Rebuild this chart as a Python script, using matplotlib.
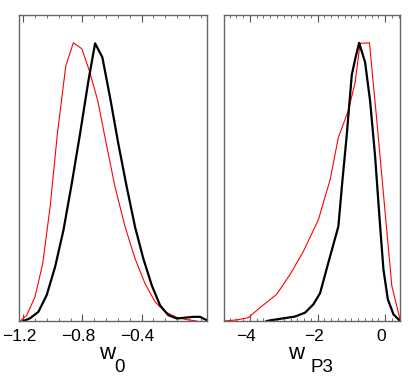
import numpy as np
import matplotlib
matplotlib.use('Agg')
import matplotlib.pyplot as plt
from matplotlib.ticker import MultipleLocator, FixedLocator
from matplotlib.transforms import ScaledTranslation

plt.rcParams['font.family'] = ['Liberation Sans', 'DejaVu Sans']

# w0 panel
w0_black_x = [-1.199, -1.153, -1.097, -1.041, -0.984, -0.928, -0.872, -0.816, -0.759, -0.714,
              -0.665, -0.613, -0.557, -0.5, -0.444, -0.388, -0.331, -0.275, -0.219, -0.162,
              -0.106, -0.05, -0.005, 0.04]
w0_black_y = [0.0, 0.01, 0.033, 0.093, 0.195, 0.326, 0.493, 0.672, 0.864, 0.998,
              0.948, 0.804, 0.637, 0.481, 0.338, 0.224, 0.128, 0.056, 0.021, 0.009,
              0.012, 0.015, 0.015, 0.003]
w0_red_x = [-1.221, -1.176, -1.12, -1.068, -1.018, -0.969, -0.912, -0.861, -0.804, -0.753,
            -0.696, -0.643, -0.579, -0.511, -0.444, -0.377, -0.309, -0.241, -0.162, -0.095, -0.027]
w0_red_y = [0.0, 0.02, 0.087, 0.206, 0.41, 0.672, 0.917, 1.0, 0.979, 0.90,
            0.792, 0.649, 0.481, 0.338, 0.224, 0.135, 0.069, 0.033, 0.013, 0.005, 0.0]

# wP3 panel
wp3_black_x = [-3.505, -3.209, -2.667, -2.37, -2.124, -1.926, -1.68, -1.384, -1.283, -1.135,
               -0.987, -0.889, -0.77, -0.593, -0.444, -0.296, -0.148, -0.05, 0.08, 0.246, 0.444]
wp3_black_y = [0.0, 0.006, 0.016, 0.03, 0.06, 0.10, 0.21, 0.34, 0.48, 0.67,
               0.885, 0.94, 1.0, 0.93, 0.79, 0.59, 0.34, 0.185, 0.078, 0.024, 0.0]
wp3_red_x = [-4.761, -4.394, -4.05, -3.704, -3.209, -2.815, -2.421, -1.976, -1.63, -1.384,
             -1.087, -0.889, -0.741, -0.464, -0.246, 0.0, 0.199, 0.444]
wp3_red_y = [0.0, 0.004, 0.012, 0.048, 0.096, 0.167, 0.25, 0.364, 0.507, 0.66,
             0.757, 0.857, 0.998, 1.0, 0.72, 0.39, 0.126, 0.004]

fig = plt.figure(figsize=(4.09, 3.77), dpi=100)
ax1 = fig.add_axes([0.0472, 0.1485, 0.4582, 0.8117])
ax2 = fig.add_axes([0.5484, 0.1485, 0.4296, 0.8117])

ax1.plot(w0_red_x, w0_red_y, color='red', lw=0.8)
ax1.plot(w0_black_x, w0_black_y, color='black', lw=1.6)
ax2.plot(wp3_red_x, wp3_red_y, color='red', lw=0.8)
ax2.plot(wp3_black_x, wp3_black_y, color='black', lw=1.6)

ax1.set_xlim(-1.226, 0.04)
ax2.set_xlim(-4.76, 0.44)
ax1.xaxis.set_major_locator(FixedLocator([-1.2, -0.8, -0.4]))
ax1.set_xticklabels(['\u22121.2', '\u22120.8', '\u22120.4'])
ax1.xaxis.set_minor_locator(FixedLocator(np.arange(-1.2, 0.04, 0.08)))
ax2.xaxis.set_major_locator(FixedLocator([-4, -2, 0]))
ax2.set_xticklabels(['\u22124', '\u22122', '0'])
ax2.xaxis.set_minor_locator(MultipleLocator(0.2))

offset = ScaledTranslation(-4 / 100, 0, fig.dpi_scale_trans)
for ax in (ax1, ax2):
    ax.set_ylim(0, 1.1)
    ax.set_yticks([])
    for s in ax.spines.values():
        s.set_color('#666666')
        s.set_linewidth(1.0)
    ax.tick_params(axis='x', which='both', direction='in', top=True, bottom=True,
                   colors='#555555', labelcolor='black', labelsize=12.5, pad=6)
    ax.tick_params(axis='x', which='major', length=5, width=0.8)
    ax.tick_params(axis='x', which='minor', length=2.5, width=0.6)
    for lab in ax.get_xticklabels():
        lab.set_transform(lab.get_transform() + offset)

# axis labels: w with a large subscript
def px(x, y):
    return x / 409, 1 - y / 377

fig.text(*px(99, 359), 'w', fontsize=16, ha='left', va='baseline')
fig.text(*px(114.5, 372), '0', fontsize=13.5, ha='left', va='baseline')
fig.text(*px(288, 359), 'w', fontsize=16, ha='left', va='baseline')
fig.text(*px(310, 372), 'P3', fontsize=13.5, ha='left', va='baseline')

fig.savefig('out.png', dpi=100)
